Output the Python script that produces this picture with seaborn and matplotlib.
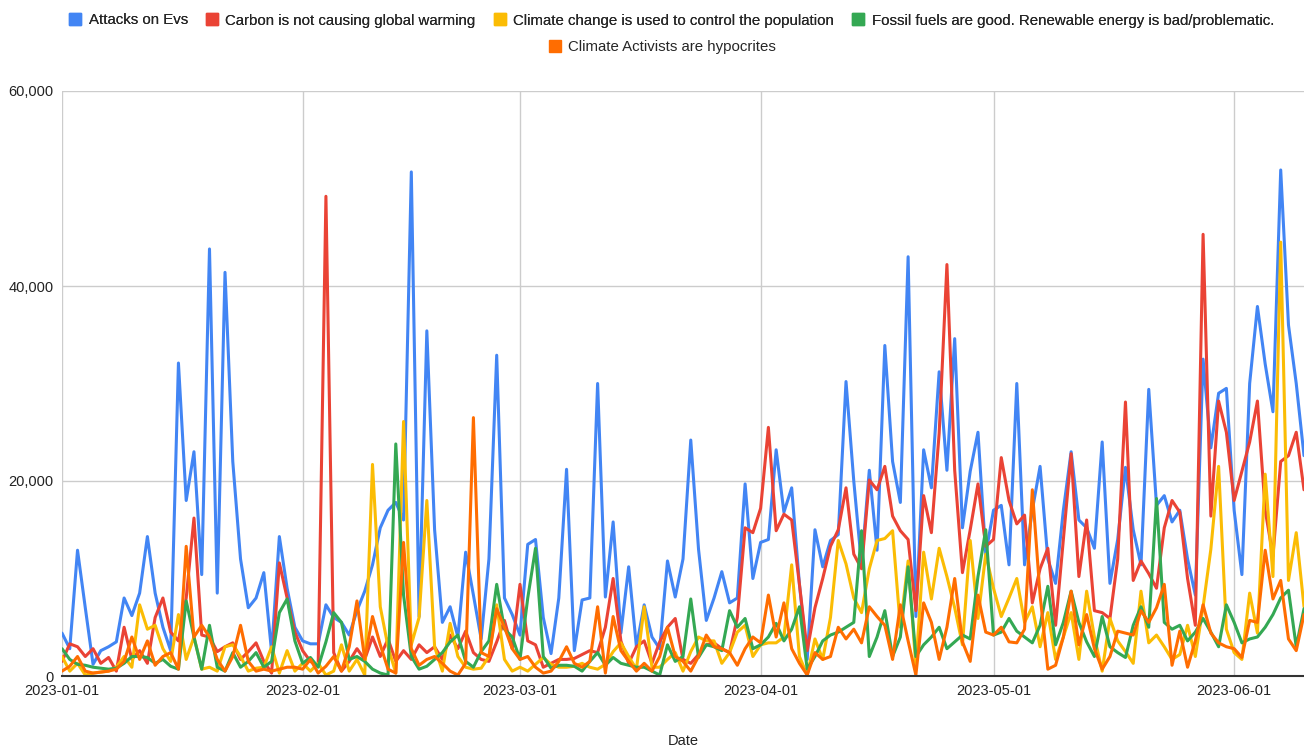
import pandas as pd
import matplotlib
matplotlib.use("Agg")
import matplotlib.pyplot as plt
import matplotlib.dates as mdates
from matplotlib.lines import Line2D
from matplotlib.ticker import FuncFormatter
import seaborn as sns

# daily values, 2023-01-01 .. 2023-06-10
start_date = "2023-01-01"

attacks_evs = [
    4400, 2800, 12900, 7000, 1200, 2600, 3000, 3500, 8000, 6200, 8500, 14300, 8500, 5000, 2600, 32100, 18000, 23000, 10400, 43800,
    8500, 41400, 22000, 12000, 7000, 8000, 10600, 2500, 14300, 9000, 5000, 3600, 3300, 3300, 7300, 6000, 5500, 4200, 6700, 8700,
    11400, 15200, 17000, 17800, 16000, 51700, 6100, 35400, 15000, 5500, 7100, 4000, 12700, 8300, 3800, 12000, 32900, 8000, 6300, 4200,
    13500, 14000, 6000, 2300, 8000, 21200, 2600, 7800, 8000, 30000, 8100, 15800, 4400, 11200, 3000, 7300, 4000, 2800, 11800, 8100,
    12000, 24200, 13000, 5700, 8000, 10700, 7500, 8000, 19700, 10000, 13700, 14000, 23200, 16800, 19300, 9400, 1700, 15000, 11200, 13900,
    14500, 30200, 20000, 11400, 21100, 12900, 33900, 22000, 17800, 43000, 6100, 23200, 19300, 31200, 21100, 34600, 15200, 21000, 25000, 12500,
    17000, 17500, 11400, 30000, 11400, 17000, 21500, 12000, 9500, 17000, 23000, 16000, 15200, 13100, 24000, 9500, 14000, 21400, 15000, 11400,
    29400, 17500, 18500, 15800, 17000, 12000, 8300, 32500, 23400, 29000, 29500, 17000, 10400, 30000, 37900, 32000, 27100, 51900, 36000, 30000,
    22600,
]

carbon = [
    1500, 3300, 3000, 2000, 2800, 1300, 1900, 500, 5000, 1700, 2600, 1300, 6000, 8000, 4500, 3600, 8000, 16200, 4200, 4000,
    2500, 3000, 3400, 1700, 2500, 3400, 1500, 300, 11600, 8000, 4500, 2600, 1500, 1000, 49200, 2400, 500, 1500, 2800, 1700,
    4000, 2000, 3800, 1500, 2600, 1700, 3200, 2400, 3000, 1700, 4200, 2800, 4600, 2400, 1700, 1500, 3500, 5700, 2800, 9400,
    3600, 3200, 900, 1300, 1700, 1700, 1800, 2200, 2600, 2400, 5000, 10000, 3600, 1300, 3000, 3600, 1300, 3500, 5000, 5900,
    1700, 1300, 2200, 3200, 3400, 2800, 2400, 6000, 15200, 14700, 17200, 25500, 14900, 16600, 16000, 9400, 2600, 7000, 10000, 13300,
    15000, 19300, 12500, 11000, 20100, 19100, 21500, 16400, 14900, 14000, 6700, 18500, 14700, 24900, 42200, 21100, 10600, 15000, 19700, 13300,
    14000, 22400, 18000, 15600, 16500, 7500, 11000, 13100, 5200, 14000, 22800, 10200, 16000, 6700, 6500, 5900, 12000, 28100, 9800, 11800,
    10500, 9000, 15200, 18000, 16800, 10000, 5200, 45300, 16400, 28200, 25000, 18000, 21000, 24000, 28200, 17000, 12300, 22000, 22600, 25000,
    19100,
]

population = [
    2000, 500, 1300, 100, 300, 400, 500, 900, 2000, 900, 7300, 4800, 5200, 2800, 1500, 6300, 1700, 4000, 700, 900,
    500, 3000, 3200, 2000, 500, 800, 900, 3000, 300, 2600, 500, 1300, 500, 1300, 100, 500, 3200, 500, 1700, 100,
    21700, 7100, 3000, 300, 26100, 3200, 6000, 18000, 3000, 500, 5400, 2000, 900, 700, 800, 2000, 7300, 1700, 500, 900,
    500, 1200, 1900, 1200, 900, 900, 1000, 1300, 900, 700, 1200, 2500, 3400, 2000, 700, 7100, 900, 900, 1700, 2400,
    500, 2500, 4000, 3600, 3600, 1300, 2400, 4500, 5200, 2000, 3200, 3400, 3400, 4000, 11400, 2000, 100, 3800, 1700, 6000,
    13900, 11500, 8000, 6500, 11000, 13900, 14100, 14900, 5000, 11800, 1000, 12700, 7900, 13100, 10200, 7000, 3200, 13900, 5900, 12500,
    9000, 6100, 8000, 10000, 5500, 7100, 3000, 6500, 1700, 4000, 6500, 1700, 8700, 4000, 500, 5900, 3600, 2500, 1300, 8700,
    3400, 4200, 3000, 1700, 2200, 5200, 2000, 7100, 13000, 21500, 4800, 2400, 1700, 8500, 4400, 20700, 10200, 44500, 9800, 14700,
    7100,
]

fossil = [
    2800, 1700, 1200, 1100, 900, 800, 700, 800, 1300, 2000, 2000, 1900, 1300, 1700, 1000, 700, 7700, 4000, 700, 5200,
    900, 500, 2400, 900, 1500, 2400, 900, 1500, 6500, 7900, 3600, 1300, 1900, 900, 3500, 6500, 5500, 1700, 2000, 1500,
    700, 300, 100, 23800, 8300, 2000, 700, 1000, 1700, 2400, 3500, 4200, 1500, 900, 2500, 3600, 9400, 4800, 4000, 1700,
    8000, 13100, 2000, 800, 1100, 1100, 1000, 500, 1500, 2400, 1100, 1900, 1300, 1100, 900, 900, 500, 100, 3200, 1500,
    2000, 7900, 1900, 3200, 3000, 2600, 6700, 5000, 5900, 2800, 3200, 4000, 5400, 3600, 4800, 7100, 700, 2000, 3600, 4200,
    4500, 5000, 5500, 14900, 2000, 4000, 6700, 2000, 4000, 11200, 2000, 3200, 4000, 5000, 2800, 3500, 4200, 3800, 10200, 15000,
    4200, 4500, 5900, 4600, 4000, 3400, 5200, 9200, 3200, 5500, 8700, 5500, 3500, 2000, 6100, 3000, 2400, 1900, 5200, 7100,
    5000, 18200, 5500, 4800, 5200, 3600, 4500, 5900, 4500, 3000, 7300, 5500, 3400, 3800, 4000, 5000, 6300, 8000, 8800, 3000,
    6900,
]

hypocrites = [
    500, 1000, 2000, 500, 300, 400, 500, 700, 1500, 4000, 1700, 3600, 1100, 2000, 2400, 700, 13300, 4000, 5200, 4000,
    1700, 500, 2000, 5200, 1500, 500, 700, 500, 700, 900, 900, 700, 1700, 300, 1000, 2000, 500, 3000, 7700, 1700,
    6100, 3200, 700, 300, 13700, 2800, 1100, 1700, 2000, 1300, 500, 100, 1300, 26500, 2400, 2000, 6900, 5000, 2800, 1700,
    2000, 900, 300, 500, 1500, 3000, 1300, 900, 1500, 7100, 300, 6100, 2600, 1500, 500, 1300, 500, 2000, 5000, 2000,
    1500, 500, 2000, 4200, 3000, 2800, 2400, 1100, 2800, 4000, 3400, 8300, 4000, 7500, 2800, 1300, 100, 2400, 1700, 2000,
    5000, 3800, 4800, 3400, 7100, 6100, 5200, 1700, 7300, 3600, 100, 7500, 5500, 1700, 5000, 10000, 3500, 1500, 8300, 4500,
    4200, 5000, 3500, 3400, 4800, 19100, 8300, 700, 1100, 4000, 8700, 3200, 6300, 2800, 700, 2000, 4600, 4400, 4200, 6700,
    5500, 7000, 9400, 1100, 4600, 900, 3600, 7300, 4400, 3400, 3000, 2800, 1900, 5700, 5500, 12900, 7900, 9800, 3800, 2600,
    6300,
]

series_names = [
    "Attacks on Evs",
    "Carbon is not causing global warming",
    "Climate change is used to control the population",
    "Fossil fuels are good. Renewable energy is bad/problematic.",
    "Climate Activists are hypocrites",
]
colors = ["#4285F4", "#EA4335", "#FBBC04", "#34A853", "#FF6D01"]

dates = pd.date_range(start_date, periods=len(attacks_evs), freq="D")
wide = pd.DataFrame(
    dict(zip(series_names, [attacks_evs, carbon, population, fossil, hypocrites])),
    index=dates,
)
wide.index.name = "Date"
df = wide.reset_index().melt(id_vars="Date", var_name="Series", value_name="Count")

sns.set_theme(style="white")
plt.rcParams["font.family"] = ["Liberation Sans", "DejaVu Sans"]

fig = plt.figure(figsize=(13.04, 7.53), dpi=100)
ax = fig.add_axes([62 / 1304, 77 / 753, 1 - 62 / 1304, 585 / 753])

sns.lineplot(
    data=df, x="Date", y="Count", hue="Series", hue_order=series_names,
    palette=dict(zip(series_names, colors)), linewidth=2.2, ax=ax, legend=False,
)

ax.set_ylim(0, 60000)
ax.set_xlim(dates[0], dates[-1])
ax.set_yticks([0, 20000, 40000, 60000])
ax.yaxis.set_major_formatter(FuncFormatter(lambda v, p: f"{int(v):,}"))
ax.xaxis.set_major_locator(mdates.MonthLocator())
ax.xaxis.set_major_formatter(mdates.DateFormatter("%Y-%m-%d"))
ax.grid(True, color="#cccccc", linewidth=1)
ax.set_axisbelow(True)
for side in ["top", "right", "left"]:
    ax.spines[side].set_visible(False)
ax.spines["bottom"].set_color("#333333")
ax.spines["bottom"].set_linewidth(1.5)
ax.tick_params(axis="both", length=0, labelsize=10.5, colors="#222222", pad=6)
ax.set_xlabel("Date", fontsize=10.5, color="#222222", labelpad=26)
ax.set_ylabel("")

handles = [Line2D([], [], marker="s", linestyle="none", markersize=8, color=c) for c in colors]
leg1 = fig.legend(handles[:4], series_names[:4], loc="upper center", bbox_to_anchor=(0.515, 1.0),
                  ncol=4, frameon=False, fontsize=10.8, handlelength=0.8, handletextpad=0.5,
                  columnspacing=1.2)
fig.add_artist(leg1)
fig.legend(handles[4:], series_names[4:], loc="upper center", bbox_to_anchor=(0.508, 0.965),
           ncol=1, frameon=False, fontsize=10.8, handlelength=0.8, handletextpad=0.5)

fig.savefig("out.png", dpi=100)
